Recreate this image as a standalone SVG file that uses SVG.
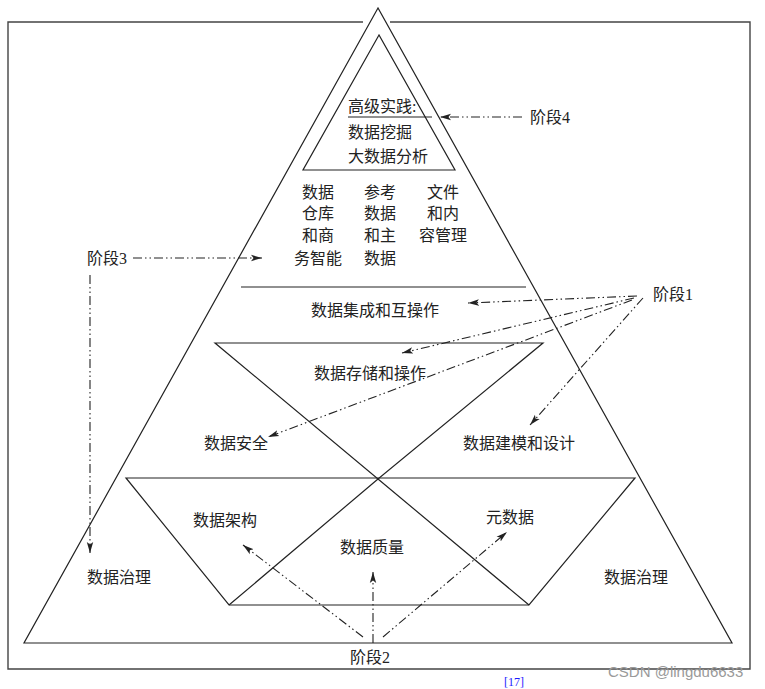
<svg xmlns="http://www.w3.org/2000/svg" width="765" height="689" viewBox="0 0 765 689">
<defs>
<style>
.ln{stroke:#222;stroke-width:1.2;fill:none}
.fr{stroke:#444;stroke-width:1.4;fill:none}
.dd{stroke:#222;stroke-width:1.1;fill:none;stroke-dasharray:9 3 1.5 3 1.5 3}
text{font-family:"Liberation Serif","Noto Sans CJK SC",serif;font-size:16px;fill:#222}
.m{text-anchor:middle}
</style>
<marker id="ah" markerUnits="userSpaceOnUse" markerWidth="12" markerHeight="8" refX="11" refY="4" orient="auto">
<path d="M0,0.8 L11,4 L0,7.2 L2.5,4 z" fill="#222"/>
</marker>
</defs>
<rect width="765" height="689" fill="#fff"/>
<g id="frame">
<path class="fr" d="M363,22 H8 V669 H750 V22 H390"/>
</g>
<g id="pyramid">
<path class="ln" d="M378,8 L24,643 L732,643 Z"/>
</g>
<g id="stage4-triangle">
<path class="ln" d="M379,35 L303,170 L455,170 Z"/>
<line class="ln" x1="348" y1="117" x2="432" y2="117"/>
<text x="348" y="112">高级实践:</text>
<text x="348" y="137.5">数据挖掘</text>
<text x="348" y="162">大数据分析</text>
</g>
<g id="stage3-block">
<text class="m" x="318" y="198">数据</text>
<text class="m" x="318" y="219">仓库</text>
<text class="m" x="318" y="241">和商</text>
<text class="m" x="318" y="264">务智能</text>
<text class="m" x="380" y="198">参考</text>
<text class="m" x="380" y="219">数据</text>
<text class="m" x="380" y="241">和主</text>
<text class="m" x="380" y="264">数据</text>
<text class="m" x="443" y="198">文件</text>
<text class="m" x="443" y="219">和内</text>
<text class="m" x="443" y="241">容管理</text>
<line class="ln" x1="241" y1="287" x2="526" y2="287"/>
</g>
<g id="integration">
<text class="m" x="375" y="316">数据集成和互操作</text>
</g>
<g id="upper-triangle">
<path class="ln" d="M215,343 L543,343 L378,479 Z"/>
<text class="m" x="370" y="379">数据存储和操作</text>
</g>
<g id="security"><text class="m" x="236" y="449">数据安全</text></g>
<g id="modeling"><text class="m" x="519" y="449">数据建模和设计</text></g>
<g id="lower-shape">
<path class="ln" d="M126,478 L635,478 L529,605 L229,605 Z"/>
<path class="ln" d="M378,479 L529,605 M378,479 L229,605"/>
</g>
<g id="architecture"><text class="m" x="225" y="526">数据架构</text></g>
<g id="quality"><text class="m" x="372" y="553">数据质量</text></g>
<g id="metadata"><text class="m" x="510" y="523">元数据</text></g>
<g id="governance-left"><text class="m" x="119" y="583">数据治理</text></g>
<g id="governance-right"><text class="m" x="636" y="583">数据治理</text></g>
<g id="stage-labels">
<text x="530" y="123">阶段4</text>
<text x="87" y="264">阶段3</text>
<text x="653" y="300">阶段1</text>
<text x="350" y="663">阶段2</text>
</g>
<g id="connectors">
<line class="dd" x1="522" y1="117" x2="440" y2="117" marker-end="url(#ah)"/>
<line class="dd" x1="133" y1="258" x2="262" y2="258" marker-end="url(#ah)"/>
<line class="dd" x1="90" y1="275" x2="90" y2="553" marker-end="url(#ah)"/>
<line class="dd" x1="637" y1="296" x2="468" y2="303" marker-end="url(#ah)"/>
<line class="dd" x1="634" y1="298" x2="402" y2="353" marker-end="url(#ah)"/>
<line class="dd" x1="632" y1="300" x2="268" y2="437" marker-end="url(#ah)"/>
<line class="dd" x1="643" y1="298" x2="530" y2="425" marker-end="url(#ah)"/>
<line class="dd" x1="363" y1="637" x2="243" y2="545" marker-end="url(#ah)"/>
<line class="dd" x1="373" y1="643" x2="373" y2="572" marker-end="url(#ah)"/>
<line class="dd" x1="383" y1="637" x2="507" y2="532" marker-end="url(#ah)"/>
</g>
<text x="608" y="677" style="font-family:'Liberation Sans',sans-serif;font-size:15px;fill:#9a9a9a">CSDN @lingdu6633</text>
<text x="504" y="686" style="font-family:'Liberation Serif',serif;font-size:12px;fill:#1a1aff">[17]</text>
</svg>
